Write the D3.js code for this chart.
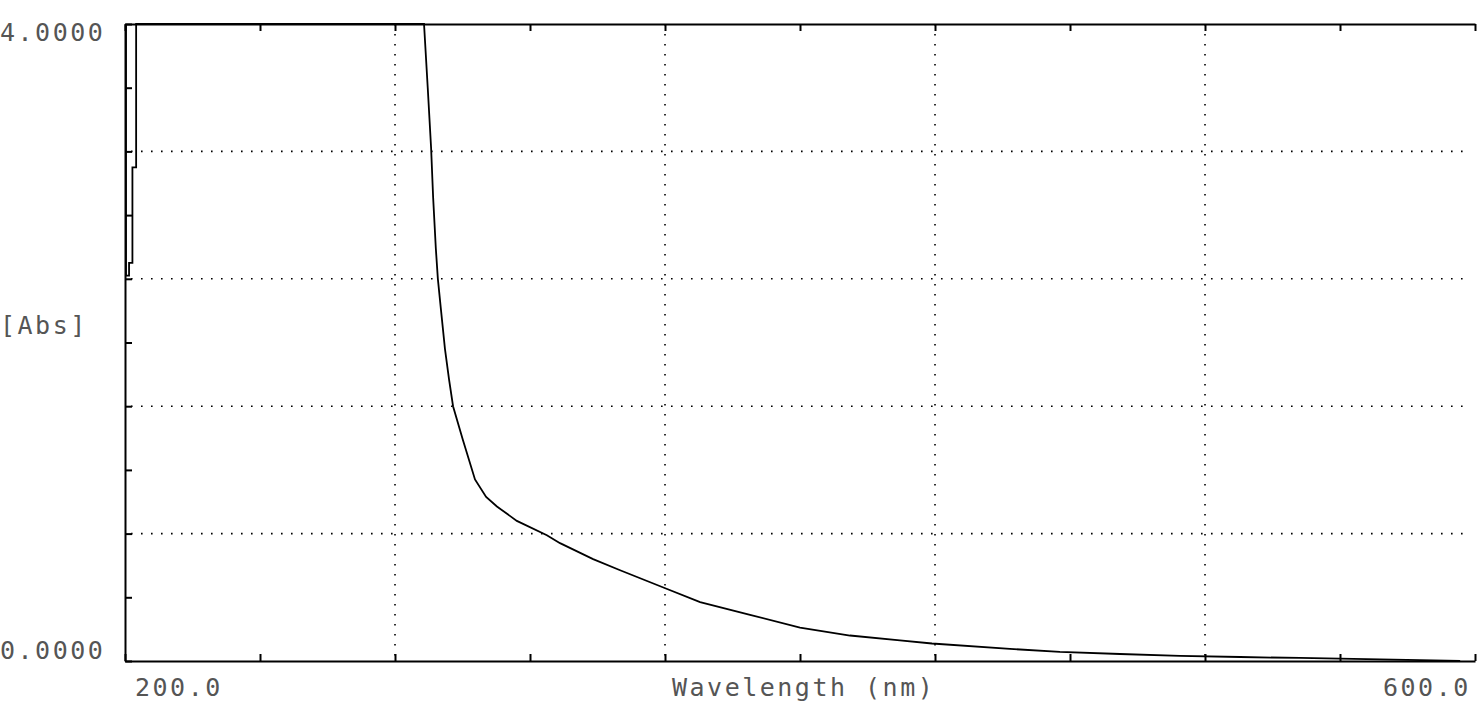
<!DOCTYPE html>
<html>
<head>
<meta charset="utf-8">
<script src="https://cdn.jsdelivr.net/npm/d3@7"></script>
<style>
  body { margin: 0; background: #fff; overflow: hidden; }
  text { font-family: "DejaVu Sans Mono", "Liberation Mono", monospace; fill: #555; }
</style>
</head>
<body>
<div id="chart"></div>
<script>
// spectrum trace (nm, Abs)
var wavelengths = [200.3, 200.3, 201.2, 201.2, 202.2, 202.2, 203.3, 203.3, 288.6,
  289.7, 290.7, 291.3, 292.1, 292.7, 293.6, 294.8, 296.0, 297.2, 300.1, 303.7,
  307.0, 310.2, 316.1, 325.0, 328.9, 338.7, 346.7, 359.7, 370.4, 385.2, 400.0, 414.8,
  429.6, 439.1, 462.2, 477.0, 494.8, 512.6, 530.4, 548.1, 583.7, 595.6];
var absorbance = [4.0, 2.42, 2.42, 2.5, 2.5, 3.1, 3.1, 4.0, 4.0,
  3.60, 3.22, 2.91, 2.59, 2.40, 2.21, 1.96, 1.77, 1.60, 1.39, 1.14,
  1.03, 0.97, 0.88, 0.79, 0.74, 0.64, 0.57, 0.46, 0.37, 0.29, 0.21, 0.16,
  0.13, 0.11, 0.076, 0.057, 0.044, 0.032, 0.025, 0.019, 0.006, 0.0];

var xGrid = [280, 360, 440, 520];
var yGrid = [0.8, 1.6, 2.4, 3.2];
var xTicks = d3.range(200, 601, 40);
var yTicks = d3.range(0, 4.01, 0.4);
var yLabels = [[4, "4.0000"], [0, "0.0000"]];
var xLabels = [[200, "200.0"], [600, "600.0"]];
var yTitle = "[Abs]";
var xTitle = "Wavelength (nm)";

var W = 1479, H = 715;
var svg = d3.select("#chart").append("svg")
  .attr("width", W)
  .attr("height", H);

var x = d3.scaleLinear().domain([200, 600]).range([125, 1475]);
var y = d3.scaleLinear().domain([0, 4]).range([661, 24]);

// dotted grid
svg.selectAll(".vgrid").data(xGrid).enter().append("line")
  .attr("x1", d => x(d)).attr("x2", d => x(d))
  .attr("y1", y(4)).attr("y2", y(0))
  .attr("stroke", "#000").attr("stroke-width", 1.6)
  .attr("stroke-dasharray", "1.6,8.4");

svg.selectAll(".hgrid").data(yGrid).enter().append("line")
  .attr("x1", x(200) + 6).attr("x2", 1470)
  .attr("y1", d => y(d)).attr("y2", d => y(d))
  .attr("stroke", "#000").attr("stroke-width", 1.6)
  .attr("stroke-dasharray", "1.6,8.4");

// axes with inward ticks
var axBottom = svg.append("g").attr("transform", "translate(0," + y(0) + ")")
  .call(d3.axisBottom(x).tickValues(xTicks).tickSize(-7).tickSizeOuter(0).tickFormat(""));
var axTop = svg.append("g").attr("transform", "translate(0," + y(4) + ")")
  .call(d3.axisTop(x).tickValues(xTicks).tickSize(-7).tickSizeOuter(0).tickFormat(""));
var axLeft = svg.append("g").attr("transform", "translate(" + x(200) + ",0)")
  .call(d3.axisLeft(y).tickValues(yTicks).tickSize(-7).tickSizeOuter(0).tickFormat(""));

[axBottom, axTop, axLeft].forEach(function (g) {
  g.selectAll("path, line").attr("stroke", "#000").attr("stroke-width", 2);
});

// trace
var pts = wavelengths.map((w, i) => [w, absorbance[i]]);
svg.append("path")
  .datum(pts)
  .attr("fill", "none")
  .attr("stroke", "#000")
  .attr("stroke-width", 1.8)
  .attr("d", d3.line().x(d => x(d[0])).y(d => y(d[1])));

// labels
var fs = 25, ls = 2.5;
svg.selectAll(".ylab").data(yLabels).enter().append("text")
  .attr("x", 0)
  .attr("y", d => d[0] === 4 ? y(d[0]) + 17 : y(d[0]) - 2)
  .attr("font-size", fs).attr("letter-spacing", ls)
  .text(d => d[1]);

svg.append("text")
  .attr("x", 0).attr("y", 334)
  .attr("font-size", fs).attr("letter-spacing", ls)
  .text(yTitle);

svg.selectAll(".xlab").data(xLabels).enter().append("text")
  .attr("x", d => d[0] === 200 ? x(d[0]) + 10 : x(d[0]) - 92)
  .attr("y", 696)
  .attr("font-size", fs).attr("letter-spacing", ls)
  .text(d => d[1]);

svg.append("text")
  .attr("x", 672).attr("y", 696)
  .attr("font-size", fs).attr("letter-spacing", ls)
  .text(xTitle);
</script>
</body>
</html>
